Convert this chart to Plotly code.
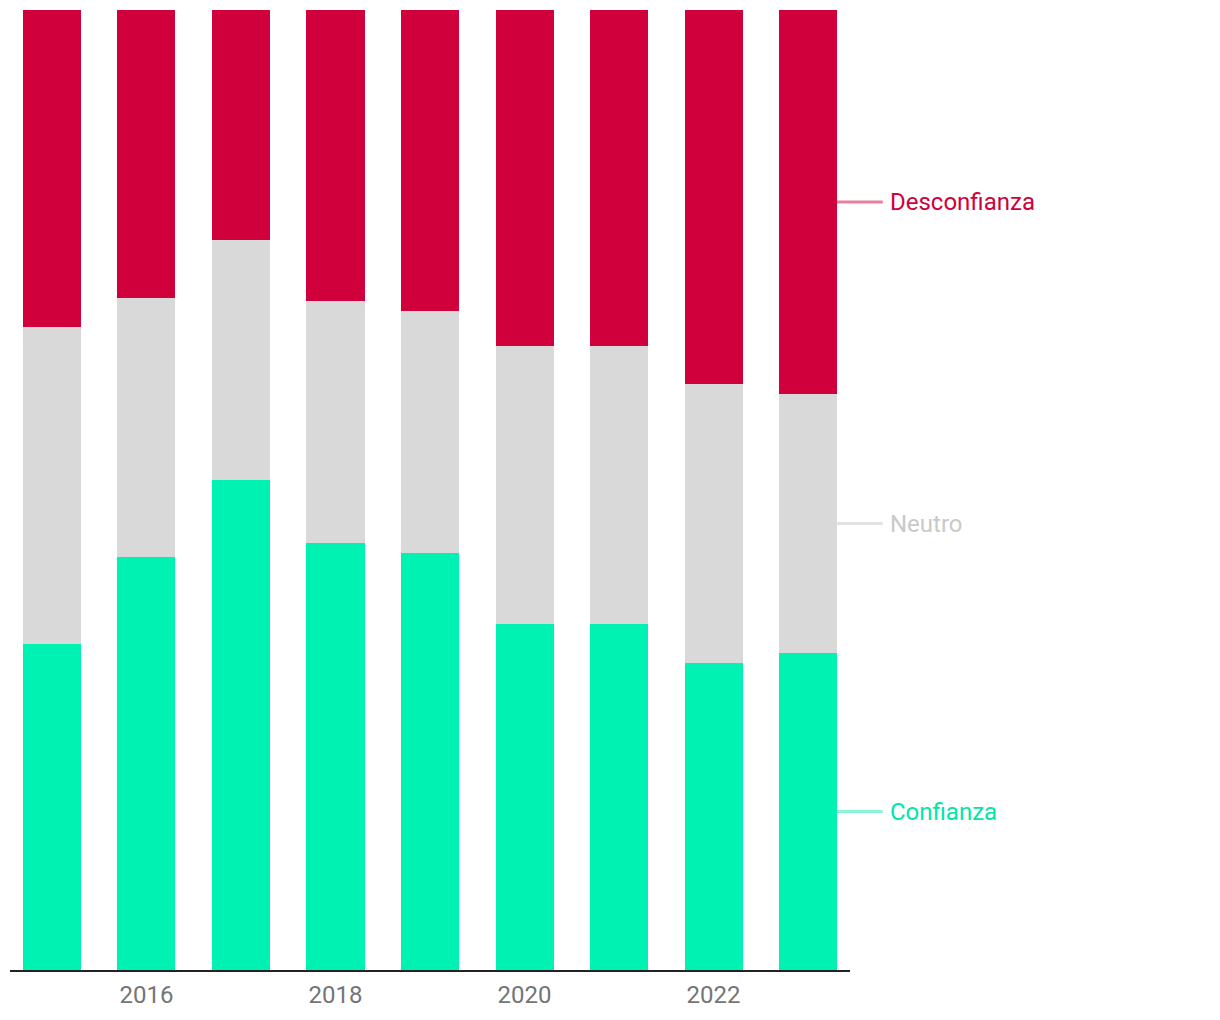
import plotly.graph_objects as go

years = [2015, 2016, 2017, 2018, 2019, 2020, 2021, 2022, 2023]
confianza = [34, 43, 51, 44.5, 43.4, 36, 36, 32, 33]
neutro = [33, 27, 25, 25.2, 25.2, 29, 29, 29, 27]
desconfianza = [33, 30, 24, 30.3, 31.4, 35, 35, 39, 40]
tick_years = [2016, 2018, 2020, 2022]

series = [
    ("Confianza", confianza, "#00f2b2", "#00e6a8", "rgba(0,230,170,0.45)"),
    ("Neutro", neutro, "#d9d9d9", "#c9c9c9", "rgba(200,200,200,0.5)"),
    ("Desconfianza", desconfianza, "#d0003c", "#d0003c", "rgba(208,0,60,0.5)"),
]

fig = go.Figure()
base = 0.0
shapes = []
annotations = []
for name, vals, color, tcolor, lcolor in series:
    fig.add_trace(go.Bar(x=years, y=vals, name=name, marker=dict(color=color, line=dict(width=0)),
                         hoverinfo="x+y+name"))
    ymid = base + vals[-1] / 2
    base += vals[-1]
    shapes.append(dict(type="line", xref="paper", yref="y", x0=0.9845, x1=1.039, y0=ymid, y1=ymid,
                       line=dict(color=lcolor, width=3)))
    annotations.append(dict(xref="paper", yref="y", x=1.0452, y=ymid, text=name, showarrow=False,
                            xanchor="left", yanchor="middle", font=dict(color=tcolor, size=24)))

fig.update_layout(
    barmode="stack",
    bargap=0.386,
    width=1212, height=1012,
    margin=dict(l=2, r=370, t=2, b=50),
    paper_bgcolor="white", plot_bgcolor="white",
    font=dict(family="Roboto", size=24, color="#757575"),
    showlegend=False,
    shapes=shapes,
    annotations=annotations,
    xaxis=dict(range=[2014.556, 2023.444], tickmode="array", tickvals=tick_years,
               ticktext=[str(t) for t in tick_years], showgrid=False, zeroline=False,
               showline=True, linecolor="#222222", linewidth=2, ticks="",
               ticklabelstandoff=2,
               tickfont=dict(size=24, color="#757575")),
    yaxis=dict(range=[0, 100], visible=False, showgrid=False, zeroline=False),
)

fig.write_html("out.html")
